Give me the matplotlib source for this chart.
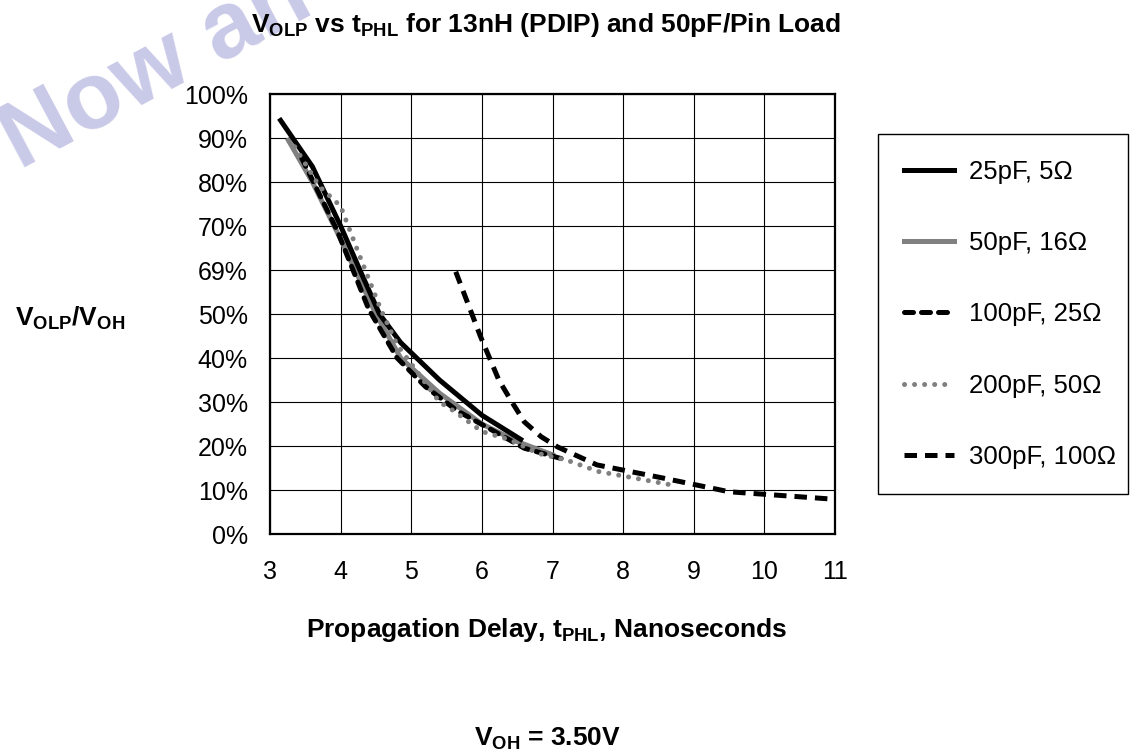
import matplotlib
matplotlib.use("Agg")
import matplotlib.pyplot as plt
import numpy as np

plt.rcParams['font.family'] = ['Liberation Sans', 'DejaVu Sans']
plt.rcParams['mathtext.fontset'] = 'custom'
plt.rcParams['mathtext.rm'] = 'Liberation Sans'
plt.rcParams['mathtext.bf'] = 'Liberation Sans:bold'
plt.rcParams['mathtext.it'] = 'Liberation Sans'

# curves (x in ns, y in %)
x_25pf = [3.15, 3.6, 4.0, 4.3, 4.55, 4.85, 5.4, 6.0, 6.55]
y_25pf = [94, 83.5, 70, 59, 50, 43.5, 35, 27, 21.5]

x_50pf = [3.26, 3.6, 4.0, 4.5, 4.85, 5.4, 6.0, 6.5, 7.0]
y_50pf = [89.5, 80, 67, 50, 40, 32, 25, 21, 18]

x_100pf = [3.45, 3.95, 4.4, 4.8, 5.2, 5.65, 6.1, 6.6, 7.2]
y_100pf = [85.4, 69, 51, 40, 33.5, 28, 24, 19.5, 16.8]

x_200pf = [3.35, 3.7, 4.0, 4.25, 4.57, 4.8, 5.1, 5.4, 5.6, 6.0, 6.4, 6.8, 7.2, 7.65, 8.1, 8.7]
y_200pf = [88, 79, 74.5, 64, 51, 43, 36.5, 30, 28, 23.3, 21.4, 18.3, 16.8, 14.2, 12.9, 11.1]

x_300pf = [5.63, 5.98, 6.24, 6.41, 6.6, 6.84, 7.07, 7.63, 8.57, 9.5, 10.9]
y_300pf = [59.6, 44.9, 35, 30.4, 25.5, 22.1, 19.8, 15.7, 12.7, 9.6, 8.0]

y_ticks = [0, 10, 20, 30, 40, 50, 60, 70, 80, 90, 100]
y_tick_labels = ['0%', '10%', '20%', '30%', '40%', '50%', '69%', '70%', '80%', '90%', '100%']
x_ticks = [3, 4, 5, 6, 7, 8, 9, 10, 11]

fig = plt.figure(figsize=(11.39, 7.52), dpi=100)

# watermark
fig.text(20/1139, 1 - 170/752, 'Now an', fontsize=68, fontweight='bold', color='#c9c9e8',
         rotation=28, ha='left', va='baseline', rotation_mode='anchor', zorder=0)

ax = fig.add_axes([270/1139, 1 - 534/752, 565/1139, 440/752])
ax.set_facecolor('none')

lw = 3.6
ax.plot(x_25pf, y_25pf, color='black', lw=lw, label='25pF, 5Ω', zorder=5)
ax.plot(x_50pf, y_50pf, color='#808080', lw=lw, label='50pF, 16Ω', zorder=4)
ax.plot(x_100pf, y_100pf, color='black', lw=lw, ls=(0, (1.8, 1.6)),
        dash_capstyle='round', label='100pF, 25Ω', zorder=6)
ax.plot(x_200pf, y_200pf, color='#808080', lw=lw, ls=(0, (0.01, 2.0)),
        dash_capstyle='round', label='200pF, 50Ω', zorder=7)
ax.plot(x_300pf, y_300pf, color='black', lw=lw, ls=(0, (2.5, 1.6)),
        dash_capstyle='butt', label='300pF, 100Ω', zorder=8)

ax.set_xlim(3, 11)
ax.set_ylim(0, 100)
ax.set_xticks(x_ticks)
ax.set_yticks(y_ticks)
ax.set_yticklabels(y_tick_labels)
ax.grid(True, color='black', lw=0.8)
ax.tick_params(length=0, labelsize=18)
ax.tick_params(axis='x', pad=19)
ax.tick_params(axis='y', pad=16)
for s in ax.spines.values():
    s.set_linewidth(1.6)

fig.text(546/1139, 1 - 25/752, r'$\mathbf{V_{OLP}}$ vs $\mathbf{t_{PHL}}$ for 13nH (PDIP) and 50pF/Pin Load',
         fontsize=19, fontweight='bold', ha='center', va='center')
fig.text(70/1139, 1 - 318/752, r'$\mathbf{V_{OLP}/V_{OH}}$', fontsize=19,
         ha='center', va='center')
fig.text(547/1139, 1 - 630/752, r'Propagation Delay, $\mathbf{t_{PHL}}$, Nanoseconds',
         fontsize=19, fontweight='bold', ha='center', va='center')
fig.text(548/1139, 1 - 739/752, r'$\mathbf{V_{OH}}$ = 3.50V', fontsize=19,
         fontweight='bold', ha='center', va='center')

leg = fig.legend(loc='upper left', mode='expand',
                 bbox_to_anchor=(878/1139, (752 - 497)/752, 250/1139, 363/752),
                 borderaxespad=0, fontsize=18.5, labelspacing=1.84, borderpad=1.0,
                 handlelength=1.95, handletextpad=0.58, fancybox=False,
                 framealpha=1, edgecolor='black')
leg.get_frame().set_linewidth(1.0)

fig.savefig('out.png', dpi=100)
